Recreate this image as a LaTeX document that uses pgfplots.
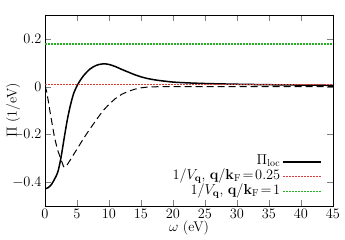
\documentclass[border=0pt]{standalone}
\usepackage{pgfplots}
\pgfplotsset{compat=1.18}
\definecolor{myred}{RGB}{215,60,60}
\definecolor{mygreen}{RGB}{40,175,40}
\begin{document}
\begin{tikzpicture}[font=\fontsize{14}{16}\selectfont]
\begin{axis}[
  scale only axis,
  width=288pt, height=191pt,
  xmin=0, xmax=45, ymin=-0.5, ymax=0.3,
  xtick={0,5,...,45},
  ytick={-0.4,-0.2,0,0.2},
  yticklabels={$-0.4$,$-0.2$,$0$,$0.2$},
  tick label style={font=\fontsize{14}{16}\selectfont},
  label style={font=\fontsize{14}{16}\selectfont},
  major tick length=6pt,
  tick align=inside,
  xlabel={$\omega$ (eV)},
  ylabel={$\Pi$ (1/eV)},
  every axis x label/.style={at={(axis description cs:0.5,-0.115)}, anchor=center},
  every axis y label/.style={at={(axis description cs:-0.111,0.5)}, anchor=center, rotate=90},
  legend plot pos=right,
  legend cell align=right,
  legend style={draw=none, fill=none, at={(1,0)}, anchor=south east,
    xshift=-8pt, yshift=4.5pt, row sep=0pt, font=\fontsize{14}{16}\selectfont,
    nodes={inner ysep=0.5pt, text height=10pt, text depth=4pt},
    /tikz/every even column/.append style={column sep=0pt}},
  legend image code/.code={\draw[#1] (0pt,0pt) -- (38pt,0pt);},
]
\addplot[black, line width=1.5pt, smooth] coordinates {
(0,-0.428) (0.5,-0.423) (1.0,-0.410) (1.5,-0.387) (2.0,-0.358) (2.5,-0.297)
(3.0,-0.215) (3.5,-0.137) (4.0,-0.075) (4.5,-0.027) (5.0,0.003) (5.5,0.026)
(6.0,0.045) (6.5,0.060) (7.0,0.073) (7.5,0.082) (8.0,0.089) (8.5,0.093)
(9.0,0.095) (9.5,0.095) (10,0.093) (11,0.084) (12,0.072) (13,0.061)
(14,0.050) (15,0.041) (16,0.034) (17,0.029) (18,0.025) (19,0.022)
(20,0.019) (22,0.016) (25,0.013) (30,0.010) (35,0.008) (40,0.0065) (45,0.0055)
};
\addlegendentry{$\Pi_{\mathrm{loc}}$}
\addplot[black, line width=1pt, dash pattern=on 7pt off 4pt, forget plot] coordinates {
(0,0.004) (0.25,-0.02) (0.5,-0.058) (0.75,-0.10) (1.0,-0.138) (1.5,-0.215)
(2.0,-0.268) (2.5,-0.305) (2.9,-0.335) (3.1,-0.338) (3.5,-0.326) (4.0,-0.305)
(4.5,-0.283) (5.0,-0.262) (6.0,-0.218) (7.0,-0.178) (8.0,-0.140) (9.0,-0.103)
(10,-0.074) (11,-0.050) (12,-0.032) (13,-0.020) (14,-0.011) (15,-0.005)
(16,-0.002) (18,0.0) (20,0.0) (25,0.0) (30,0.0) (35,0.0) (45,0.0)
};
\addplot[color=myred, line width=1.4pt, dash pattern=on 2pt off 1pt] coordinates {(0,0.009) (45,0.009)};
\addlegendentry{$1/V_{\mathbf{q}}$, $\mathbf{q}/\mathbf{k}_{\mathrm{F}}\!=\!0.25$}
\addplot[color=mygreen, line width=1.4pt, dash pattern=on 2pt off 1pt] coordinates {(0,0.179) (45,0.179)};
\addlegendentry{$1/V_{\mathbf{q}}$, $\mathbf{q}/\mathbf{k}_{\mathrm{F}}\!=\!1$}
\end{axis}
\pgfresetboundingbox
\path ([shift={(-45pt,-34pt)}]current axis.south west) rectangle ([shift={(12pt,15pt)}]current axis.north east);
\end{tikzpicture}
\end{document}
